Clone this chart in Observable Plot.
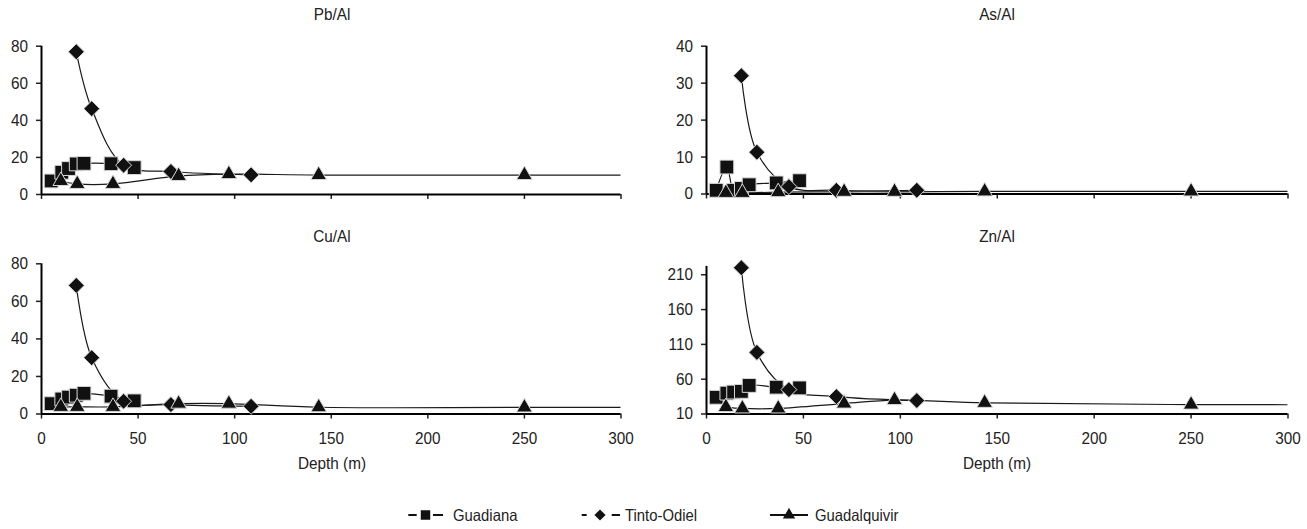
<!DOCTYPE html>
<html>
<head>
<meta charset="utf-8">
<script src="https://cdn.jsdelivr.net/npm/d3@7"></script>
<script src="https://cdn.jsdelivr.net/npm/@observablehq/plot@0.6"></script>
<style>
  html, body { margin: 0; padding: 0; background: #fff; }
  #root { position: relative; width: 1307px; height: 529px; overflow: hidden;
          font-family: "Liberation Sans", Arial, sans-serif; color: #222; }
  .panel { position: absolute; }
  .lbl { position: absolute; transform: translate(-50%, -50%) scaleX(0.9); font-size: 17px; white-space: nowrap; }
  .legtxt { position: absolute; font-size: 16.5px; transform-origin: left center; transform: translateY(-50%) scaleX(0.9); white-space: nowrap; }
  #legend { position: absolute; left: 0; top: 0; }
</style>
</head>
<body>
<div id="root"></div>
<script>
// ---------- data ----------
const seriesNames = ["Guadiana", "Tinto-Odiel", "Guadalquivir"];
const xTicks = [0, 50, 100, 150, 200, 250, 300];

const depthGuadiana = [5, 10.5, 14, 18, 22, 36, 48];
const depthTinto = [18, 26, 42.5, 67, 108.5];
const depthGuadalquivir = [10, 18.5, 37, 71, 97, 143.5, 250, 400]; // last point lies beyond the axis

// Pb/Al
const guadianaPb = [7.3, 12, 14, 16.5, 16.8, 16.6, 14.5];
const tintoPb = [77, 46.3, 15.8, 12.4, 10.6];
const guadalquivirPb = [7.3, 5.7, 5.7, 10, 11, 10.5, 10.5, 10.5];
const pbTicks = [0, 20, 40, 60, 80];

// As/Al
const guadianaAs = [1, 7.3, 1, 1.5, 2.5, 3, 3.6];
const tintoAs = [32, 11.3, 2, 1, 1];
const guadalquivirAs = [0.3, 0.3, 0.5, 0.6, 0.6, 0.7, 0.7, 0.7];
const asTicks = [0, 10, 20, 30, 40];

// Cu/Al
const guadianaCu = [5.5, 8, 9, 10, 11, 9.5, 7];
const tintoCu = [68.5, 30, 6.8, 5, 4.1];
const guadalquivirCu = [3.8, 3.8, 3.8, 5.5, 5.5, 3.6, 3.5, 3.5];
const cuTicks = [0, 20, 40, 60, 80];

// Zn/Al
const guadianaZn = [34, 40, 41.5, 42.5, 51, 48.5, 47.5];
const tintoZn = [220, 98.5, 45, 35, 29.3];
const guadalquivirZn = [20, 18, 18, 25, 30, 26, 23.5, 23.5];
const znTicks = [10, 60, 110, 160, 210];

// ---------- drawing ----------
const FONT = `"Liberation Sans", Arial, sans-serif`;
const NARROW = 0.9;
const rows = (depths, vals) => vals.map((v, i) => ({depth: depths[i], value: v}));

const symbols = ["square", "diamond2", "triangle"];
const radii = [7.8, 7.2, 5.8];

function condense(svg) {
  svg.querySelectorAll("text").forEach(t => {
    const tr = t.getAttribute("transform");
    if (tr) t.setAttribute("transform", tr + ` scale(${NARROW},1)`);
  });
}

function panel(cfg) {
  const sets = [
    rows(depthGuadiana, cfg.g),
    rows(depthTinto, cfg.t),
    rows(depthGuadalquivir, cfg.q)
  ];
  const marks = [
    Plot.axisX({ticks: xTicks, tickSize: 5, tickPadding: 13, strokeWidth: 1.5,
                tickFormat: cfg.showX ? (d => d) : (() => ""), label: null}),
    Plot.axisY({ticks: cfg.yTicks, tickSize: 5, tickPadding: 8.5, strokeWidth: 1.5, label: null}),
  ];
  sets.forEach((s) => {
    marks.push(Plot.line(s, {x: "depth", y: "value", curve: "catmull-rom", stroke: "#1a1a1a",
                             strokeWidth: 1.2, clip: true}));
  });
  marks.push(Plot.ruleY([cfg.yDomain[0]], {stroke: "#000", strokeWidth: 2}));
  marks.push(Plot.ruleX([0], {stroke: "#000", strokeWidth: 2}));
  sets.forEach((s, i) => {
    marks.push(Plot.dot(s.filter(d => d.depth <= 300), {x: "depth", y: "value", symbol: symbols[i], r: radii[i],
                            fill: "#111", stroke: "#d8d8d8", strokeWidth: 1}));
  });
  const el = Plot.plot({
    width: cfg.width, height: cfg.height,
    marginLeft: cfg.ml, marginRight: cfg.mr, marginTop: cfg.mt, marginBottom: cfg.mb,
    x: {domain: [0, 300]},
    y: {domain: cfg.yDomain},
    style: {fontFamily: FONT, fontSize: "17px", color: "#222", background: "transparent", overflow: "visible"},
    marks
  });
  condense(el);
  el.classList.add("panel");
  el.style.left = cfg.left + "px";
  el.style.top = cfg.top + "px";
  return el;
}

const root = document.getElementById("root");
const cfgs = [
  {left: 0, top: 0, width: 653, height: 215, ml: 41, mr: 32.5, mt: 45.7, mb: 21,
   yDomain: [0, 80], yTicks: pbTicks, g: guadianaPb, t: tintoPb, q: guadalquivirPb, showX: false},
  {left: 653, top: 0, width: 654, height: 215, ml: 53, mr: 19.5, mt: 45.7, mb: 21.5,
   yDomain: [0, 40], yTicks: asTicks, g: guadianaAs, t: tintoAs, q: guadalquivirAs, showX: false},
  {left: 0, top: 240, width: 653, height: 200, ml: 41, mr: 32.5, mt: 23.3, mb: 26.5,
   yDomain: [0, 80], yTicks: cuTicks, g: guadianaCu, t: tintoCu, q: guadalquivirCu, showX: true},
  {left: 653, top: 240, width: 654, height: 200, ml: 53, mr: 19.5, mt: 25.9, mb: 26.5,
   yDomain: [10, 222], yTicks: znTicks, g: guadianaZn, t: tintoZn, q: guadalquivirZn, showX: true},
];
cfgs.forEach(c => root.appendChild(panel(c)));

// titles and axis labels
const labels = [
  ["Pb/Al", 331.5, 15], ["As/Al", 997, 15], ["Cu/Al", 331.5, 237], ["Zn/Al", 997, 237],
  ["Depth (m)", 331.5, 464], ["Depth (m)", 997, 464]
];
labels.forEach(([t, x, y]) => {
  const d = document.createElement("div");
  d.className = "lbl"; d.textContent = t;
  d.style.left = x + "px"; d.style.top = y + "px";
  root.appendChild(d);
});

// legend
const legY = 515;
const legItems = [
  {textX: 453, segs: [[408.3, 416.7], [433, 443]], cx: 425.5, size: 90},
  {textX: 625, segs: [[581.7, 586.7], [611.7, 620]], cx: 600, size: 80},
  {textX: 815, segs: [[770, 808]], cx: 789, size: 66},
];
const legSyms = [d3.symbolSquare, d3.symbolDiamond2, d3.symbolTriangle];
const legSvg = d3.create("svg").attr("id", "legend").attr("width", 1307).attr("height", 529);
legItems.forEach((it, i) => {
  it.segs.forEach(([a, b]) => legSvg.append("line").attr("x1", a).attr("x2", b).attr("y1", legY).attr("y2", legY)
    .attr("stroke", "#111").attr("stroke-width", 2));
  legSvg.append("path").attr("d", d3.symbol(legSyms[i], it.size)()).attr("transform", `translate(${it.cx},${legY})`)
    .attr("fill", "#111");
  const t = document.createElement("div");
  t.className = "legtxt"; t.textContent = seriesNames[i];
  t.style.left = it.textX + "px"; t.style.top = legY + "px";
  root.appendChild(t);
});
root.appendChild(legSvg.node());
</script>
</body>
</html>
